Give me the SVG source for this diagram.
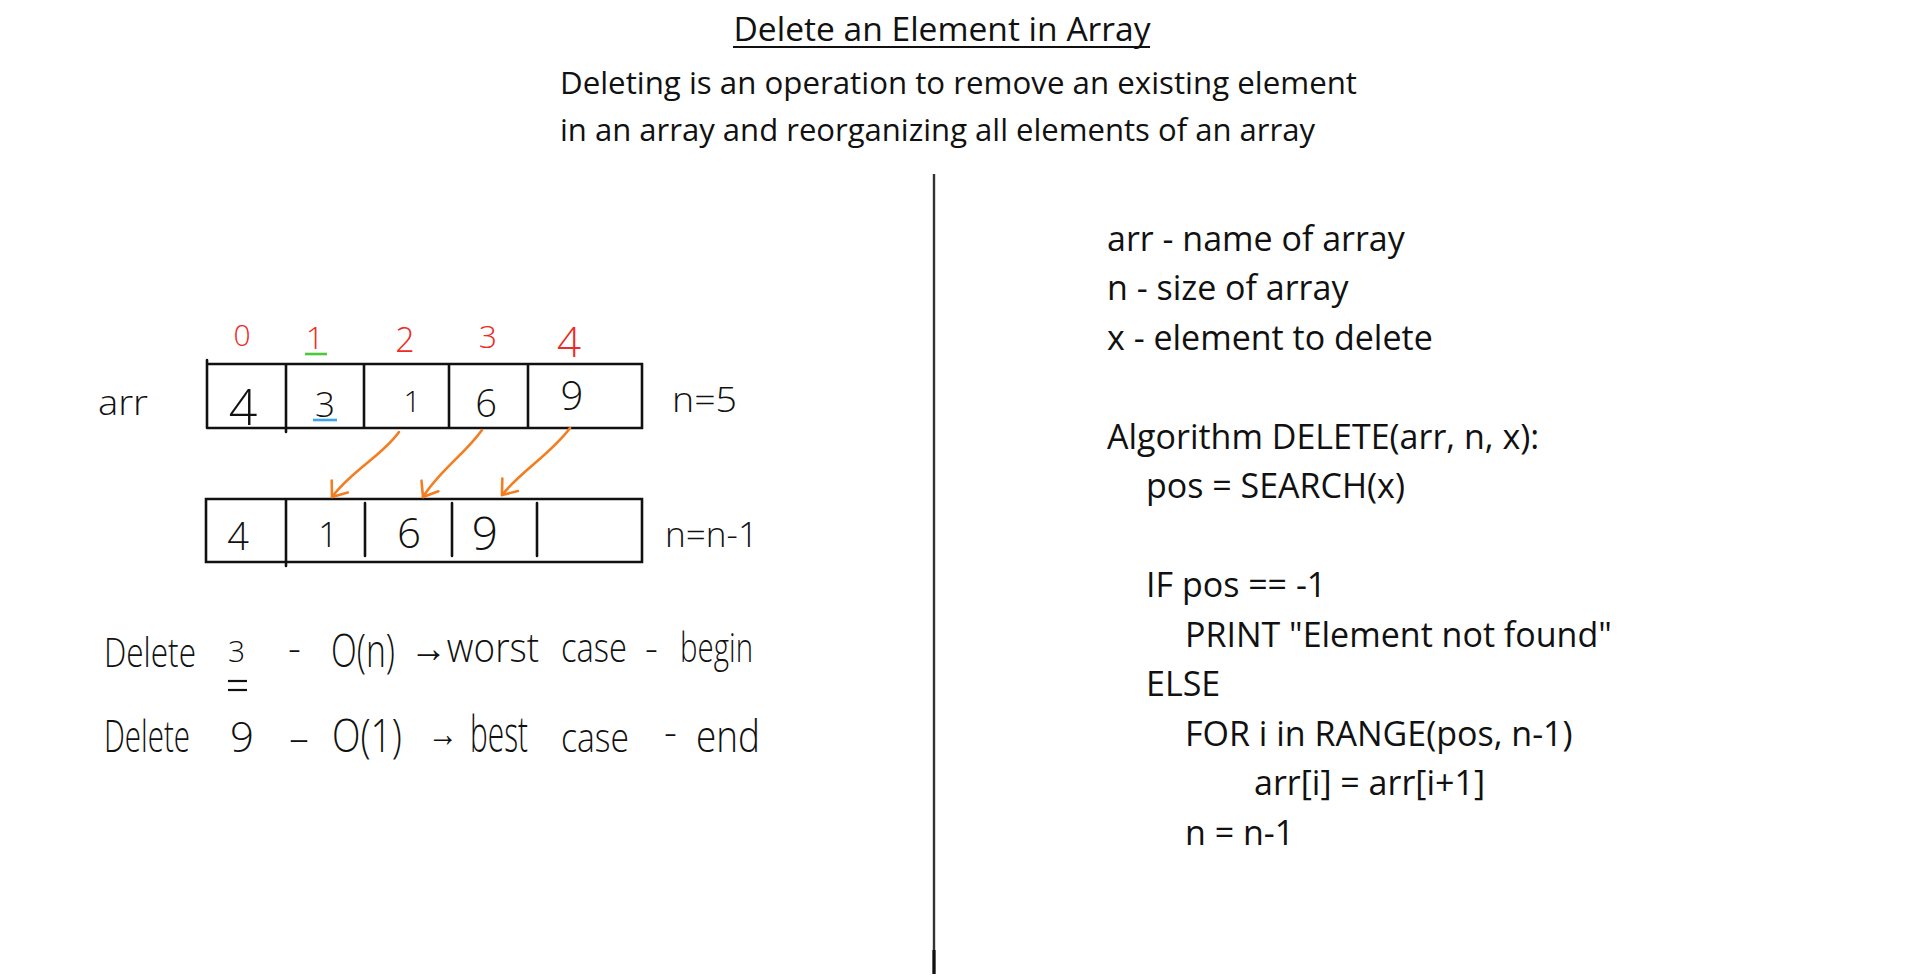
<svg xmlns="http://www.w3.org/2000/svg" width="1920" height="976" viewBox="0 0 1920 976">
<style>
.ttl{font-family:"Open Sans","Liberation Sans",sans-serif;font-size:32px;fill:#111;text-anchor:middle}
.desc{font-family:"Open Sans","Liberation Sans",sans-serif;font-size:31px;fill:#111}
.code{font-family:"Open Sans","Liberation Sans",sans-serif;font-size:34px;fill:#111}
.hw{font-family:"Open Sans","Liberation Sans",sans-serif;font-weight:300;fill:#111}
.mid{text-anchor:middle}
.red{fill:#ee2a24}
.box{fill:none;stroke:#111;stroke-width:2.6;stroke-linecap:round}
.arr{fill:none;stroke:#f47d20;stroke-width:2.6;stroke-linecap:round}
</style>
<defs>
<marker id="chev" markerUnits="userSpaceOnUse" markerWidth="30" markerHeight="30" refX="0" refY="0" viewBox="-20 -15 25 30" orient="auto">
<path d="M-13,-10 L0,0 L-13,10" fill="none" stroke="#f47d20" stroke-width="2.6" stroke-linecap="round" stroke-linejoin="round"/>
</marker>
</defs>
<rect width="1920" height="976" fill="#fff"/>

<g id="header">
<text class="ttl" x="942" y="41" textLength="417" lengthAdjust="spacingAndGlyphs">Delete an Element in Array</text>
<line x1="733" y1="47" x2="1150" y2="47" stroke="#111" stroke-width="2"/>
<text class="desc" x="560" y="94" textLength="797" lengthAdjust="spacingAndGlyphs">Deleting is an operation to remove an existing element</text>
<text class="desc" x="560" y="141" textLength="755" lengthAdjust="spacingAndGlyphs">in an array and reorganizing all elements of an array</text>
</g>

<g id="divider">
<line x1="934" y1="174" x2="934" y2="974" stroke="#333" stroke-width="2.4"/>
<line x1="934" y1="950" x2="934" y2="974" stroke="#111" stroke-width="3.2"/>
</g>

<g id="array-top">
<text class="hw red mid" x="242" y="346" font-size="30">0</text>
<text class="hw red mid" x="315" y="349" font-size="32">1</text>
<line x1="305" y1="354" x2="327" y2="354" stroke="#4cc93a" stroke-width="2.6"/>
<text class="hw red mid" x="405" y="352" font-size="34">2</text>
<text class="hw red mid" x="488" y="348" font-size="32">3</text>
<text class="hw red mid" x="569" y="357" font-size="42">4</text>
<text class="hw" x="98" y="415" font-size="34" textLength="50" lengthAdjust="spacingAndGlyphs">arr</text>
<path class="box" d="M207,360 V428 M207,364 H642 V428 H207 M286,364 V432 M364,364 V428 M449,364 V428 M528,364 V428"/>
<text class="hw mid" x="243" y="425" font-size="50">4</text>
<text class="hw mid" x="325" y="417" font-size="35">3</text>
<line x1="313" y1="420" x2="337" y2="420" stroke="#3aa6ee" stroke-width="2.6"/>
<text class="hw mid" x="412" y="412" font-size="30">1</text>
<text class="hw mid" x="486" y="417" font-size="38">6</text>
<text class="hw mid" x="572" y="410" font-size="40">9</text>
<text class="hw" x="672" y="412" font-size="34" textLength="65" lengthAdjust="spacingAndGlyphs">n=5</text>
</g>

<g id="array-bottom">
<path class="box" d="M206,499 H642 V562 H206 Z M286,499 V566 M365,503 V556 M452,503 V556 M537,503 V556"/>
<text class="hw mid" x="238" y="550" font-size="38">4</text>
<text class="hw mid" x="328" y="547" font-size="34">1</text>
<text class="hw mid" x="409" y="548" font-size="42">6</text>
<text class="hw mid" x="485" y="550" font-size="46">9</text>
<text class="hw" x="665" y="547" font-size="34" textLength="93" lengthAdjust="spacingAndGlyphs">n=n-1</text>
</g>

<g id="connectors">
<path class="arr" d="M399,432 C382,456 352,470 332,497" marker-end="url(#chev)"/>
<path class="arr" d="M482,430 C465,454 440,470 423,497" marker-end="url(#chev)"/>
<path class="arr" d="M570,428 C551,454 522,470 502,495" marker-end="url(#chev)"/>
</g>

<g id="complexity">
<text class="hw" x="104" y="667" font-size="40" textLength="92" lengthAdjust="spacingAndGlyphs">Delete</text>
<text class="hw" x="228" y="662" font-size="30">3</text>
<line x1="228" y1="681" x2="247" y2="681" stroke="#111" stroke-width="2.2"/>
<line x1="228" y1="690" x2="247" y2="690" stroke="#111" stroke-width="2.2"/>
<text class="hw" x="288" y="662" font-size="40">-</text>
<text class="hw" x="331" y="667" font-size="46" textLength="64" lengthAdjust="spacingAndGlyphs">O(n)</text>
<text class="hw" x="410" y="662" font-size="40" textLength="129" lengthAdjust="spacingAndGlyphs">→worst</text>
<text class="hw" x="561" y="662" font-size="40" textLength="66" lengthAdjust="spacingAndGlyphs">case</text>
<text class="hw" x="645" y="662" font-size="40">-</text>
<text class="hw" x="680" y="662" font-size="40" textLength="73" lengthAdjust="spacingAndGlyphs">begin</text>

<text class="hw" x="104" y="752" font-size="44" textLength="86" lengthAdjust="spacingAndGlyphs">Delete</text>
<text class="hw" x="230" y="752" font-size="42">9</text>
<text class="hw" x="288" y="752" font-size="40" textLength="22" lengthAdjust="spacingAndGlyphs">-</text>
<text class="hw" x="332" y="752" font-size="46" textLength="70" lengthAdjust="spacingAndGlyphs">O(1)</text>
<text class="hw" x="428" y="746" font-size="36" textLength="30" lengthAdjust="spacingAndGlyphs">→</text>
<text class="hw" x="470" y="752" font-size="50" textLength="58" lengthAdjust="spacingAndGlyphs">best</text>
<text class="hw" x="561" y="752" font-size="40" textLength="68" lengthAdjust="spacingAndGlyphs">case</text>
<text class="hw" x="664" y="746" font-size="40">-</text>
<text class="hw" x="696" y="752" font-size="44" textLength="64" lengthAdjust="spacingAndGlyphs">end</text>
</g>

<g id="algorithm">
<text class="code" x="1107" y="251">arr - name of array</text>
<text class="code" x="1107" y="300">n - size of array</text>
<text class="code" x="1107" y="350">x - element to delete</text>
<text class="code" x="1107" y="449">Algorithm DELETE(arr, n, x):</text>
<text class="code" x="1146" y="498">pos = SEARCH(x)</text>
<text class="code" x="1146" y="597">IF pos == -1</text>
<text class="code" x="1185" y="647">PRINT "Element not found"</text>
<text class="code" x="1146" y="696">ELSE</text>
<text class="code" x="1185" y="746">FOR i in RANGE(pos, n-1)</text>
<text class="code" x="1254" y="795">arr[i] = arr[i+1]</text>
<text class="code" x="1185" y="845">n = n-1</text>
</g>
</svg>
